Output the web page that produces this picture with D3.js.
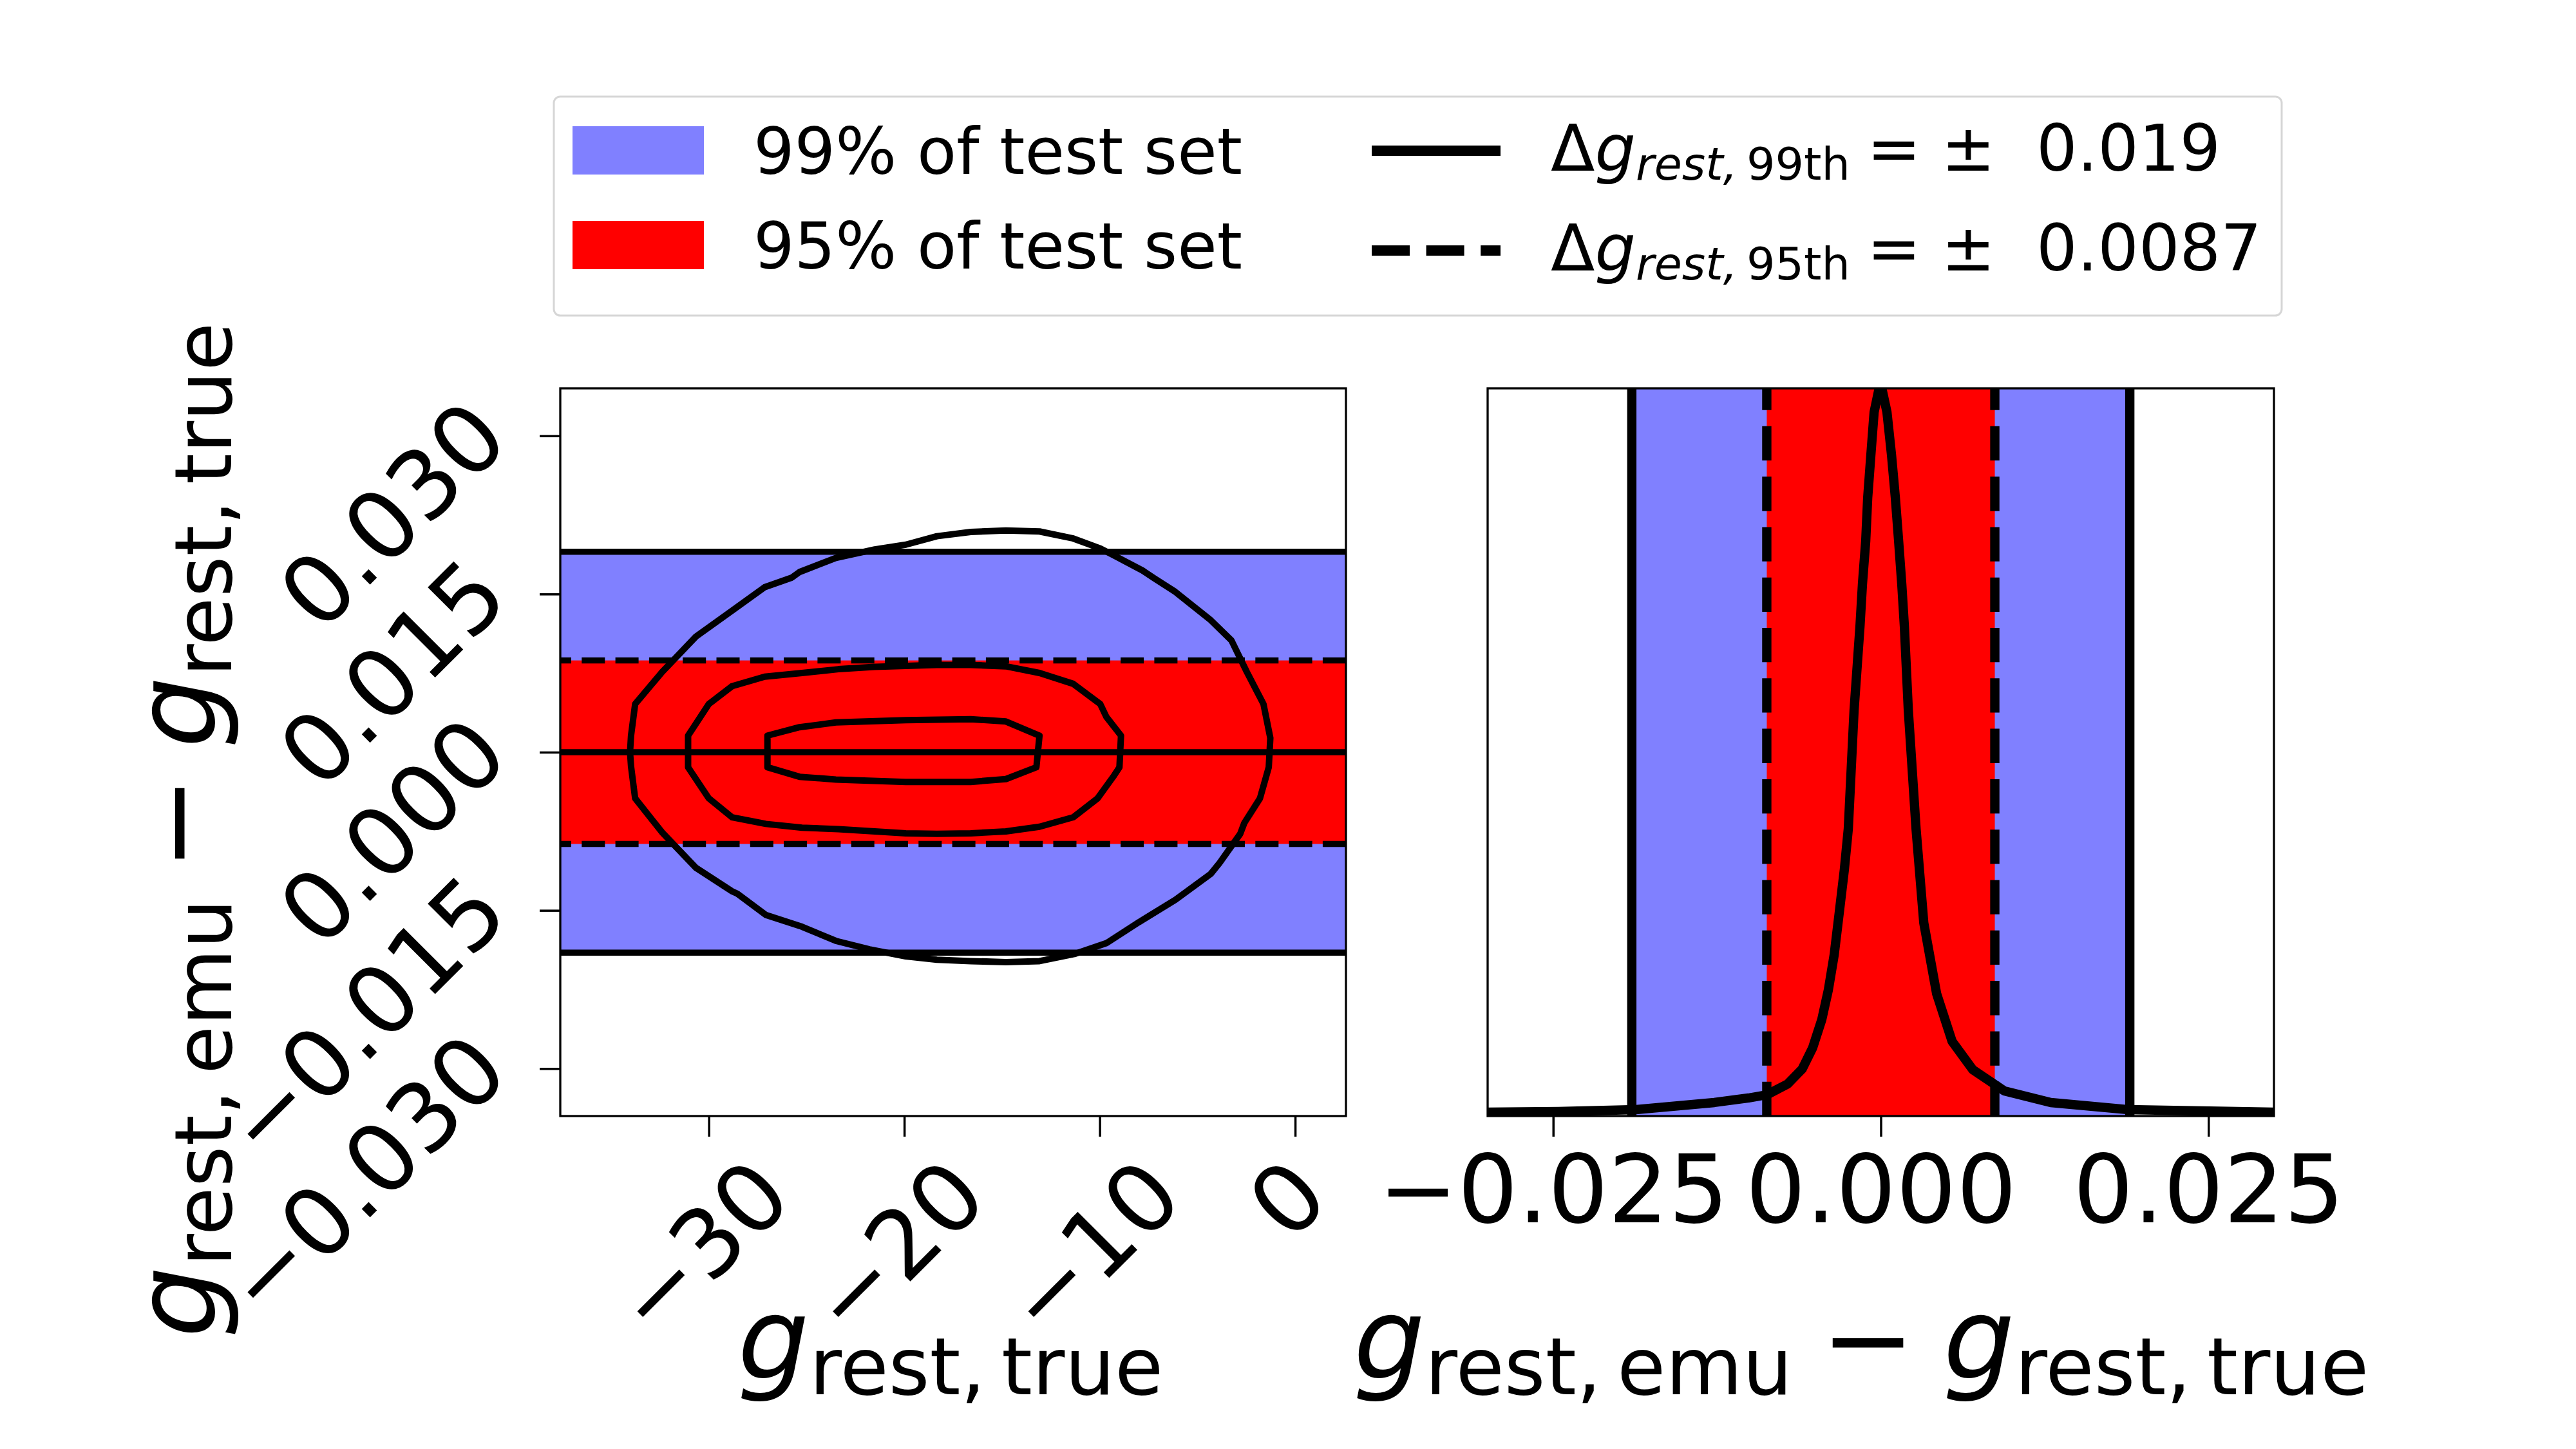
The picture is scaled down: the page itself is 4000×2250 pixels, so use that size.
<!DOCTYPE html>
<html lang="en">
<head>
<meta charset="UTF-8">
<title>Emulator residuals</title>
<script src="https://cdnjs.cloudflare.com/ajax/libs/d3/7.8.5/d3.min.js"></script>
<style>
  body { margin: 0; background: #fff; }
  text { font-family: "DejaVu Sans", sans-serif; fill: #000; }
</style>
</head>
<body>
<script>
// ---- data ----
var bandLevels = [0.019, 0.0087];            // half widths of the 99% / 95% bands
var bandLabels = ["99% of test set", "95% of test set"];
var pctNames = ["99th", "95th"];
var pctValues = ["0.019", "0.0087"];

var leftXTicks = [-30, -20, -10, 0];
var leftYTicks = [0.03, 0.015, 0, -0.015, -0.03];
var rightXTicks = [-0.025, 0, 0.025];

var leftXDomain = [-37.6, 2.6];
var leftYDomain = [-0.0345, 0.0345];
var rightXDomain = [-0.03, 0.03];
var rightYDomain = [0, 1];

// density contours, g_true vs residual
var contourOuter = [
  [-34.03, 0], [-33.98, 0.00157], [-33.77, 0.00456], [-32.39, 0.0076], [-30.66, 0.01096],
  [-28.81, 0.01342], [-27.14, 0.01565], [-25.76, 0.01655], [-25.36, 0.01708], [-23.50, 0.01842],
  [-21.51, 0.01923], [-19.92, 0.01968], [-18.33, 0.02048], [-16.60, 0.02088], [-14.80, 0.02102],
  [-13.08, 0.02093], [-11.35, 0.02026], [-9.97, 0.01932], [-9.31, 0.01869], [-7.80, 0.01722],
  [-7.19, 0.01646], [-6.13, 0.0152], [-4.32, 0.01252], [-3.26, 0.0106], [-2.47, 0.0076],
  [-1.62, 0.00456], [-1.27, 0.00134], [-1.35, -0.00143], [-1.80, -0.00438], [-2.60, -0.00671],
  [-2.81, -0.00774], [-3.87, -0.01051], [-4.32, -0.01154], [-6.13, -0.014], [-7.98, -0.0161],
  [-9.66, -0.01811], [-11.30, -0.01914], [-13.08, -0.01981], [-14.80, -0.0199], [-16.60, -0.01981],
  [-18.33, -0.01968], [-19.92, -0.01936], [-21.78, -0.01869], [-23.50, -0.01789], [-25.23, -0.01655],
  [-27.08, -0.01543], [-28.54, -0.01342], [-28.81, -0.01319], [-30.66, -0.01096], [-32.39, -0.0076],
  [-33.77, -0.00438], [-33.98, -0.00134]
];
var contourMiddle = [
  [-31.06, 0.00157], [-30.0, 0.00456], [-28.81, 0.00626], [-27.14, 0.00716], [-25.23, 0.00751],
  [-23.37, 0.00787], [-21.51, 0.00809], [-18.33, 0.00827], [-16.60, 0.00827], [-14.80, 0.00814],
  [-13.08, 0.00751], [-11.35, 0.00648], [-9.97, 0.00456], [-9.66, 0.00335], [-8.91, 0.00157],
  [-8.99, -0.00143], [-9.31, -0.00233], [-10.11, -0.00438], [-11.35, -0.00617], [-13.08, -0.00707],
  [-14.80, -0.00751], [-16.60, -0.00769], [-18.33, -0.00774], [-19.92, -0.00769], [-21.51, -0.00751],
  [-23.37, -0.00729], [-25.23, -0.00716], [-27.08, -0.0068], [-28.81, -0.00617], [-30.0, -0.00438],
  [-31.06, -0.00143]
];
var contourInner = [
  [-27.0, 0.00157], [-25.36, 0.00237], [-23.50, 0.00282], [-19.92, 0.00304], [-16.60, 0.00313],
  [-14.80, 0.00291], [-13.08, 0.00157], [-13.24, -0.00143], [-14.80, -0.00255], [-16.60, -0.00282],
  [-19.92, -0.00282], [-23.50, -0.00259], [-25.36, -0.00233], [-27.0, -0.00143]
];

// histogram of residuals (height relative to peak)
var histPoints = [
  [-0.0300, 0.0053], [-0.0246, 0.0062], [-0.0187, 0.0088], [-0.0127, 0.0186], [-0.0101, 0.0248],
  [-0.0087, 0.0292], [-0.0071, 0.0442], [-0.0060, 0.0646], [-0.0052, 0.0938], [-0.0045, 0.1327],
  [-0.0040, 0.1735], [-0.00356, 0.2212], [-0.00317, 0.2796], [-0.00278, 0.3389], [-0.00248, 0.3947],
  [-0.00204, 0.5575], [-0.00159, 0.6726], [-0.00140, 0.7310], [-0.00115, 0.7903], [-0.00100, 0.8496],
  [-0.00076, 0.9080], [-0.00051, 0.9673], [-0.00017, 0.9965], [0.00008, 1.0],
  [0.00047, 0.9673], [0.00082, 0.9080], [0.00111, 0.8496], [0.00136, 0.7903], [0.00160, 0.7310],
  [0.00180, 0.6726], [0.00210, 0.5575], [0.00269, 0.3947], [0.00328, 0.2655], [0.00426, 0.1681],
  [0.00544, 0.1027], [0.00702, 0.0637], [0.00943, 0.0345], [0.01297, 0.0186], [0.01888, 0.0088],
  [0.02995, 0.0053]
];

// ---- layout ----
var W = 4000, H = 2250;
var axTop = 603, axBottom = 1733;
var left1 = 870, right1 = 2090;
var left2 = 2310, right2 = 3531;
var blue = "#8080ff", red = "#ff0000";
var tickFont = 147, legFont = 100, labFont = 175;

var svg = d3.select("body").append("svg")
    .attr("width", W)
    .attr("height", H);

svg.append("rect").attr("width", W).attr("height", H).attr("fill", "#fff");

var xL = d3.scaleLinear().domain(leftXDomain).range([left1, right1]);
var yL = d3.scaleLinear().domain(leftYDomain).range([axBottom, axTop]);
var xR = d3.scaleLinear().domain(rightXDomain).range([left2, right2]);
var yR = d3.scaleLinear().domain(rightYDomain).range([axBottom, axTop]);

var defs = svg.append("defs");
defs.append("clipPath").attr("id", "clipL").append("rect")
    .attr("x", left1).attr("y", axTop).attr("width", right1 - left1).attr("height", axBottom - axTop);
defs.append("clipPath").attr("id", "clipR").append("rect")
    .attr("x", left2).attr("y", axTop).attr("width", right2 - left2).attr("height", axBottom - axTop);

// ---- left panel ----
var gL = svg.append("g").attr("clip-path", "url(#clipL)");

// bands: 99% first, 95% on top
gL.selectAll("rect.band")
    .data(bandLevels)
  .enter().append("rect")
    .attr("class", "band")
    .attr("x", left1)
    .attr("width", right1 - left1)
    .attr("y", function(d) { return yL(d); })
    .attr("height", function(d) { return yL(-d) - yL(d); })
    .attr("fill", function(d, i) { return i === 0 ? blue : red; });

// horizontal reference lines
var hSolid = [0, bandLevels[0], -bandLevels[0]];
gL.selectAll("line.hs")
    .data(hSolid)
  .enter().append("line")
    .attr("x1", left1).attr("x2", right1)
    .attr("y1", function(d) { return yL(d); })
    .attr("y2", function(d) { return yL(d); })
    .attr("stroke", "#000").attr("stroke-width", 9.5);

var hDash = [bandLevels[1], -bandLevels[1]];
gL.selectAll("line.hd")
    .data(hDash)
  .enter().append("line")
    .attr("x1", left1).attr("x2", right1)
    .attr("y1", function(d) { return yL(d); })
    .attr("y2", function(d) { return yL(d); })
    .attr("stroke", "#000").attr("stroke-width", 9.7)
    .attr("stroke-dasharray", "36,16.3")
    .attr("stroke-dashoffset", 19);

// contours
var cLine = d3.line()
    .x(function(d) { return xL(d[0]); })
    .y(function(d) { return yL(d[1]); })
    .curve(d3.curveLinearClosed);

gL.selectAll("path.contour")
    .data([contourOuter, contourMiddle, contourInner])
  .enter().append("path")
    .attr("d", cLine)
    .attr("fill", "none")
    .attr("stroke", "#000")
    .attr("stroke-width", 10)
    .attr("stroke-linejoin", "round");

// axes for left panel
var axXL = svg.append("g")
    .attr("transform", "translate(0," + axBottom + ")")
    .call(d3.axisBottom(xL).tickValues(leftXTicks).tickSize(32).tickFormat(d3.format("d")));
var axYL = svg.append("g")
    .attr("transform", "translate(" + left1 + ",0)")
    .call(d3.axisLeft(yL).tickValues(leftYTicks).tickSize(32).tickFormat(d3.format(".3f")));

// rotated x tick labels, centered on the tick like matplotlib
axXL.selectAll(".tick text")
    .attr("x", 0).attr("y", 0).attr("dy", null)
    .style("font-size", tickFont + "px")
    .attr("text-anchor", "end")
    .each(function() {
        var w = this.getComputedTextLength();
        var px = 0.707 * (w + 68) / 2;
        d3.select(this).attr("transform", "translate(" + px + ",132) rotate(-45)");
    });

axYL.selectAll(".tick text")
    .attr("x", 0).attr("y", 0).attr("dy", null)
    .style("font-size", tickFont + "px")
    .attr("text-anchor", "end")
    .attr("transform", "translate(-75,10) rotate(-45)");

// ---- right panel ----
var gR = svg.append("g").attr("clip-path", "url(#clipR)");

gR.selectAll("rect.band")
    .data(bandLevels)
  .enter().append("rect")
    .attr("class", "band")
    .attr("y", axTop)
    .attr("height", axBottom - axTop)
    .attr("x", function(d) { return xR(-d); })
    .attr("width", function(d) { return xR(d) - xR(-d); })
    .attr("fill", function(d, i) { return i === 0 ? blue : red; });

var vSolid = [-bandLevels[0], bandLevels[0]];
gR.selectAll("line.vs")
    .data(vSolid)
  .enter().append("line")
    .attr("x1", function(d) { return xR(d); })
    .attr("x2", function(d) { return xR(d); })
    .attr("y1", axBottom).attr("y2", axTop)
    .attr("stroke", "#000").attr("stroke-width", 14.4);

var vDash = [-bandLevels[1], bandLevels[1]];
gR.selectAll("line.vd")
    .data(vDash)
  .enter().append("line")
    .attr("x1", function(d) { return xR(d); })
    .attr("x2", function(d) { return xR(d); })
    .attr("y1", axBottom).attr("y2", axTop)
    .attr("stroke", "#000").attr("stroke-width", 14.4)
    .attr("stroke-dasharray", "53.3,25");

var hLine = d3.line()
    .x(function(d) { return xR(d[0]); })
    .y(function(d) { return yR(d[1]); });

gR.append("path")
    .datum(histPoints)
    .attr("d", hLine)
    .attr("fill", "none")
    .attr("stroke", "#000")
    .attr("stroke-width", 14.4)
    .attr("stroke-linejoin", "round");

var axXR = svg.append("g")
    .attr("transform", "translate(0," + axBottom + ")")
    .call(d3.axisBottom(xR).tickValues(rightXTicks).tickSize(32).tickFormat(d3.format(".3f")));

axXR.selectAll(".tick text")
    .attr("y", 165).attr("dy", null)
    .style("font-size", tickFont + "px")
    .attr("text-anchor", "middle");

// common axis styling
[axXL, axYL, axXR].forEach(function(a) {
    a.attr("font-size", null).attr("font-family", null).attr("color", "#000");
    a.select(".domain").remove();
    a.selectAll(".tick line").attr("stroke-width", 3.5);
});

// frames
[[left1, right1], [left2, right2]].forEach(function(b) {
    svg.append("rect")
        .attr("x", b[0]).attr("y", axTop)
        .attr("width", b[1] - b[0]).attr("height", axBottom - axTop)
        .attr("fill", "none").attr("stroke", "#000").attr("stroke-width", 3.3);
});

// ---- axis labels (g italic, subscripts upright) ----
function mathLabel(sel, parts) {
    var t = sel.append("text").attr("text-anchor", "middle")
        .style("font-size", labFont + "px").style("white-space", "pre");
    parts.forEach(function(p) {
        var ts = t.append("tspan").text(p.t);
        if (p.it) ts.style("font-style", "italic");
        if (p.sub) ts.style("font-size", (labFont * 0.7) + "px").attr("dy", 25);
        if (p.back) ts.attr("dy", -25);
    });
    return t;
}
var partsTrue = [{t: "g", it: true}, {t: "rest,\u2009true", sub: true}];
var partsDiff = [{t: "g", it: true}, {t: "rest,\u2009emu", sub: true}, {t: "\u2005\u2212\u2005", back: true},
                 {t: "g", it: true}, {t: "rest,\u2009true", sub: true}];

mathLabel(svg.append("g").attr("transform", "translate(1476,2140)"), partsTrue);
mathLabel(svg.append("g").attr("transform", "translate(2890,2140)"), partsDiff);
mathLabel(svg.append("g").attr("transform", "translate(334,1289) rotate(-90)"), partsDiff);

// ---- legend ----
var leg = svg.append("g");
leg.append("rect")
    .attr("x", 860).attr("y", 150).attr("width", 2683).attr("height", 340)
    .attr("rx", 10).attr("ry", 10)
    .attr("fill", "#fff").attr("stroke", "#d6d6d6").attr("stroke-width", 3);

var patchY = [196, 343], textY = [270, 417];
leg.selectAll("rect.patch")
    .data(bandLabels)
  .enter().append("rect")
    .attr("x", 889).attr("width", 204)
    .attr("y", function(d, i) { return patchY[i]; })
    .attr("height", 75)
    .attr("fill", function(d, i) { return i === 0 ? blue : red; });

leg.selectAll("text.lab1")
    .data(bandLabels)
  .enter().append("text")
    .attr("x", 1170)
    .attr("y", function(d, i) { return textY[i]; })
    .style("font-size", legFont + "px")
    .text(function(d) { return d; });

var lineY = [234, 389], mathY = [265, 420];
leg.selectAll("line.handle")
    .data(pctNames)
  .enter().append("line")
    .attr("x1", 2130).attr("x2", 2330)
    .attr("y1", function(d, i) { return lineY[i]; })
    .attr("y2", function(d, i) { return lineY[i]; })
    .attr("stroke", "#000").attr("stroke-width", 16)
    .attr("stroke-dasharray", function(d, i) { return i === 0 ? null : "59,25.6"; });

pctNames.forEach(function(name, i) {
    var t = leg.append("text")
        .attr("x", 2408).attr("y", mathY[i])
        .style("font-size", legFont + "px").style("white-space", "pre");
    t.append("tspan").text("\u0394");
    t.append("tspan").style("font-style", "italic").text("g");
    t.append("tspan").style("font-style", "italic").style("font-size", "70px").attr("dy", 14).text("rest,");
    t.append("tspan").style("font-size", "70px").text("\u2009" + name);
    t.append("tspan").attr("x", 2899).attr("y", mathY[i]).text("= \u00b1  " + pctValues[i]);
});
</script>
</body>
</html>
